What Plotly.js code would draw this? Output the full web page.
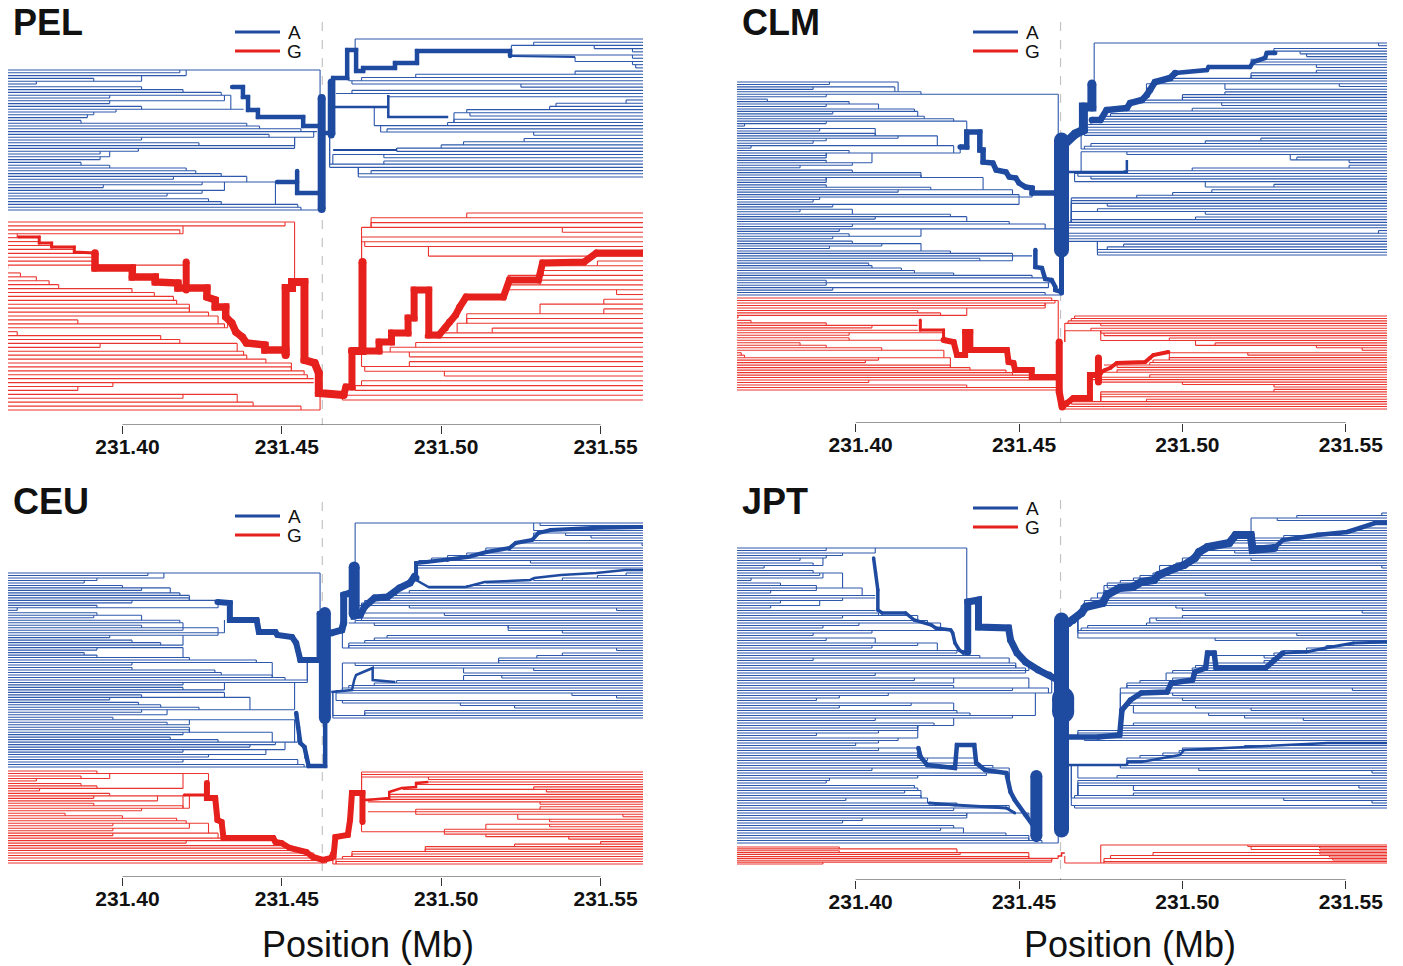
<!DOCTYPE html>
<html><head><meta charset="utf-8">
<script src="https://cdn.plot.ly/plotly-3.0.1.min.js"></script>
<style>html,body{margin:0;padding:0;background:#fff}#chart{width:1403px;height:966px}</style>
</head><body><div id="chart"></div>
<script>
// ---------------- DATA ----------------
const XT = [231.40, 231.45, 231.50, 231.55];
const XT_TEXT = ['231.40', '231.45', '231.50', '231.55'];
const SNP = 231.4627;
const POPS = ['PEL', 'CLM', 'CEU', 'JPT'];
const ALLELES = ['A', 'G'];

// merge (branch) positions in Mb of each haplotype line, listed top -> bottom
const PEL_A_left = [231.462,231.418,231.420,231.391,231.406,231.373,231.406,231.419,231.431,231.434,231.396,231.432,231.396,231.406,231.438,231.398,231.391,231.389,231.387,231.439,231.443,231.456,231.461,231.446,231.460,231.406,231.424,231.454,231.454,231.405,231.393,231.396,231.393,231.387,231.396,231.420,231.423,231.431,231.439,231.416,231.448,231.425,231.394,231.432,231.425,231.414,231.427,231.431,231.455,231.456,231.462];
const PEL_A_right = [231.473,231.529,231.522,231.548,231.560,231.522,231.560,231.542,231.560,231.561,231.542,231.492,231.475,231.471,231.472,231.525,231.472,231.467,231.483,231.558,231.536,231.534,231.508,231.504,231.509,231.504,231.502,231.479,231.483,231.481,231.529,231.526,231.507,231.500,231.486,231.486,231.466,231.482,231.482,231.465,231.465,231.478,231.474,231.474];
const PEL_G_left = [231.454,231.451,231.418,231.419,231.367,231.374,231.378,231.385,231.388,231.391,231.391,231.420,231.364,231.368,231.373,231.377,231.380,231.403,231.410,231.416,231.417,231.421,231.421,231.427,231.430,231.386,231.432,231.433,231.367,231.412,231.418,231.436,231.393,231.438,231.439,231.445,231.453,231.453,231.457,231.458,231.460,231.460,231.397,231.386,231.436,231.419,231.441,231.456,231.462];
const PEL_G_right = [231.508,231.478,231.478,231.475,231.538,231.475,231.475,231.476,231.551,231.496,231.549,231.532,231.532,231.521,231.531,231.520,231.520,231.555,231.551,231.531,231.551,231.508,231.508,231.505,231.516,231.499,231.495,231.492,231.484,231.481,231.490,231.490,231.475,231.476,231.501,231.475,231.472,231.473,231.469,231.469];

const CLM_A_left = [231.413,231.392,231.412,231.387,231.420,231.462,231.391,231.373,231.398,231.407,231.391,231.418,231.419,231.393,231.421,231.430,231.434,231.391,231.366,231.406,231.389,231.406,231.425,231.413,231.391,231.387,231.430,231.368,231.398,231.432,231.391,231.391,231.391,231.405,231.399,231.383,231.399,231.420,231.420,231.439,231.391,231.391,231.391,231.423,231.448,231.413,231.450,231.454,231.389,231.387,231.450,231.393,231.399,231.383,231.429,231.434,231.406,231.447,231.458,231.399,231.461,231.395,231.398,231.420,231.393,231.399,231.420,231.408,231.392,231.429,231.448,231.454,231.438,231.448,231.404,231.405,231.414,231.418,231.430,231.454,231.458,231.391,231.461,231.391,231.459,231.393,231.458,231.463];
const CLM_A_right = [231.473,231.560,231.528,231.526,231.536,231.538,231.521,231.522,231.522,231.541,231.541,231.521,231.521,231.497,231.492,231.489,231.548,231.513,231.513,231.500,231.500,231.488,231.484,231.512,231.503,231.479,231.478,231.476,231.475,231.472,231.471,231.471,231.468,231.470,231.470,231.524,231.507,231.472,231.470,231.469,231.469,231.483,231.535,231.533,231.551,231.551,231.503,231.482,231.467,231.468,231.472,231.467,231.528,231.507,231.509,231.497,231.486,231.466,231.466,231.466,231.477,231.474,231.466,231.507,231.504,231.466,231.465,231.465,231.465,231.560,231.465,231.465,231.465,231.465,231.482,231.477,231.474,231.474,231.474];
const CLM_G_left = [231.460,231.462,231.461,231.458,231.458,231.419,231.426,231.434,231.364,231.368,231.391,231.419,231.405,231.419,231.427,231.398,231.398,231.427,231.383,231.391,231.408,231.427,231.365,231.366,231.429,231.407,231.403,231.429,231.435,231.446,231.448,231.453,231.461,231.462,231.404,231.434,231.462,231.463];
const CLM_G_right = [231.467,231.466,231.465,231.464,231.475,231.472,231.464,231.475,231.476,231.496,231.475,231.510,231.504,231.541,231.555,231.496,231.520,231.496,231.491,231.490,231.476,231.480,231.480,231.476,231.490,231.475,231.472,231.475,231.500,231.528,231.528,231.475,231.475,231.475,231.489,231.465,231.466,231.464,231.464];

const CEU_A_left = [231.462,231.408,231.413,231.392,231.388,231.400,231.415,231.406,231.418,231.421,231.421,231.430,231.403,231.392,231.430,231.367,231.392,231.406,231.391,231.418,231.419,231.406,231.430,231.419,231.432,231.430,231.396,231.403,231.412,231.419,231.419,231.392,231.388,231.392,231.421,231.442,231.447,231.403,231.403,231.429,231.431,231.447,231.451,231.458,231.458,231.419,231.419,231.432,231.432,231.406,231.440,231.396,231.405,231.412,231.424,231.454,231.406,231.414,231.397,231.454,231.414,231.421,231.421,231.421,231.447,231.419,231.415,231.430,231.455,231.448,231.440,231.451,231.419,231.445,231.427,231.455,231.419,231.457,231.463];
const CEU_A_right = [231.473,231.531,231.560,231.529,231.529,231.539,231.547,231.529,231.523,231.563,231.514,231.521,231.508,231.502,231.497,231.493,231.528,231.492,231.492,231.558,231.558,231.549,231.538,231.529,231.514,231.508,231.496,231.490,231.486,231.484,231.480,231.476,231.475,231.473,231.490,231.555,231.473,231.501,231.475,231.473,231.471,231.479,231.521,231.521,231.538,231.483,231.479,231.476,231.471,231.471,231.469,231.555,231.538,231.530,231.518,231.518,231.469,231.473,231.478,231.529,231.507,231.507,231.519,231.486,231.479,231.471,231.469,231.467,231.467,231.541,231.555,231.467,231.469,231.506,231.523,231.476,231.476,231.466,231.466];
const CEU_G_left = [231.392,231.427,231.387,231.396,231.373,231.387,231.392,231.419,231.374,231.396,231.419,231.391,231.411,231.391,231.419,231.421,231.406,231.382,231.400,231.417,231.420,231.427,231.397,231.421,231.397,231.430,231.397,231.448,231.447,231.420,231.451,231.455,231.458,231.460,231.461,231.462,231.463,231.464];
const CEU_G_right = [231.475,231.475,231.475,231.496,231.496,231.492,231.529,231.488,231.533,231.484,231.484,231.476,231.477,231.531,231.531,231.492,231.477,231.492,231.557,231.524,231.534,231.514,231.534,231.501,231.475,231.501,231.514,231.540,231.550,231.523,231.495,231.495,231.472,231.472,231.469,231.467,231.467,231.466];

const JPT_A_left = [231.434,231.391,231.406,231.396,231.391,231.383,231.387,231.390,231.372,231.387,231.396,231.389,231.390,231.368,231.377,231.388,231.402,231.388,231.374,231.406,231.406,231.396,231.377,231.389,231.374,231.406,231.407,231.419,231.396,231.422,231.426,231.401,231.390,231.429,231.405,231.387,231.406,231.391,231.425,231.419,231.405,231.434,231.431,231.438,231.447,231.387,231.449,231.449,231.452,231.453,231.452,231.406,231.453,231.418,231.430,231.430,231.459,231.448,231.460,231.410,231.395,231.388,231.430,231.417,231.395,231.431,231.435,231.455,231.448,231.406,231.424,231.430,231.419,231.419,231.407,231.388,231.419,231.413,231.407,231.400,231.419,231.407,231.419,231.419,231.437,231.422,231.438,231.442,231.447,231.405,231.447,231.440,231.419,231.392,231.391,231.418,231.419,231.420,231.415,231.420,231.422,231.397,231.431,231.447,231.447,231.430,231.453,231.434,231.434,231.402,231.396,231.430,231.433,231.426,231.446,231.453,231.453,231.457,231.462];
const JPT_A_right = [231.561,231.535,231.521,231.529,231.559,231.563,231.554,231.550,231.541,231.531,231.515,231.516,231.514,231.521,231.508,231.505,231.516,231.504,231.500,231.521,231.498,231.493,231.561,231.493,231.491,231.487,231.485,231.481,231.477,231.476,231.477,231.476,231.474,231.507,231.472,231.470,231.470,231.469,231.498,231.500,231.555,231.500,231.490,231.492,231.489,231.471,231.469,231.468,231.468,231.535,231.468,231.510,231.552,231.544,231.538,231.531,231.528,231.508,231.525,231.525,231.507,231.504,231.503,231.497,231.495,231.503,231.497,231.487,231.483,231.483,231.481,231.552,231.481,231.497,231.484,231.500,231.483,231.483,231.504,231.521,231.485,231.508,231.519,231.537,231.485,231.481,231.481,231.468,231.468,231.468,231.468,231.470,231.544,231.519,231.500,231.499,231.494,231.487,231.483,231.483,231.483,231.482,231.481,231.505,231.558,231.480,231.468,231.468,231.468,231.468,231.554,231.485,231.485,231.467,231.466,231.531,231.558,231.466,231.467];
const JPT_G_left = [231.395,231.431,231.395,231.453,231.432,231.453,231.462,231.460,231.460,231.390];
const JPT_G_right = [231.475,231.520,231.542,231.521,231.542,231.491,231.542,231.478,231.545,231.476,231.546,231.476,231.464];

// haplotype position ranges (top, bottom) occupied by each side of each allele group
const PEL_A_span = [[70, 210], [39, 177]];
const PEL_G_span = [[222, 410], [213, 400]];
const CLM_A_span = [[82, 295], [43, 255]];
const CLM_G_span = [[298, 390], [316, 409]];
const CEU_A_span = [[573, 767], [523, 718]];
const CEU_G_span = [[771, 863], [772, 864]];
const JPT_A_span = [[548, 843], [513, 808]];
const JPT_G_span = [[847, 864], [845, 863]];

// core-haplotype (thick) paths: [position Mb, haplotype position]
const PEL_A_paths = [
 [[231.4625,98],[231.4625,209]],
 [[231.4655,82],[231.4655,135]],
 [[231.4620,126],[231.4567,126],[231.4567,117],[231.4425,117],[231.4425,110],[231.4394,110],[231.4394,97],[231.4378,97],[231.4378,87],[231.4344,87]],
 [[231.4485,182],[231.4548,182],[231.4548,171],[231.4548,193],[231.4620,193]],
 [[231.4625,133],[231.4661,133],[231.4661,78],[231.4705,78],[231.4705,50],[231.4733,50],[231.4733,71],[231.4755,71],[231.4755,68],[231.4855,68],[231.4855,63],[231.4924,63],[231.4924,51],[231.5216,51],[231.5216,56]],
 [[231.5216,56],[231.5420,57]],
 [[231.4661,107],[231.4834,107],[231.4834,95],[231.4834,117],[231.5022,117]],
 [[231.4661,150],[231.4862,150]]
];
const PEL_G_paths = [
 [[231.3674,237],[231.3739,237],[231.3739,243],[231.3778,243],[231.3778,247],[231.3849,247],[231.3849,252],[231.3914,253]],
 [[231.3914,253],[231.3914,268],[231.4031,268],[231.4031,277],[231.4103,277],[231.4103,282],[231.4174,283],[231.4174,288],[231.4265,288],[231.4265,297],[231.4291,300],[231.4291,307],[231.4324,307],[231.4324,317],[231.4343,323],[231.4356,332],[231.4376,337],[231.4389,343],[231.4447,345],[231.4447,350],[231.4512,350],[231.4512,355]],
 [[231.4512,355],[231.4512,288],[231.4532,288],[231.4532,282],[231.4571,282],[231.4571,360],[231.4603,363],[231.4616,373],[231.4616,393],[231.4694,395]],
 [[231.4200,262],[231.4200,290]],
 [[231.4694,395],[231.4701,387],[231.4720,387],[231.4720,351],[231.4805,351],[231.4805,342],[231.4844,342],[231.4844,333],[231.4896,333],[231.4896,318],[231.4915,318],[231.4915,290],[231.4961,290],[231.4961,335],[231.4993,335],[231.5013,328],[231.5026,322],[231.5045,315],[231.5058,307],[231.5078,297],[231.5195,297],[231.5214,280],[231.5305,280],[231.5318,263],[231.5448,262],[231.5487,253],[231.5633,253]],
 [[231.4720,351],[231.4753,351],[231.4753,262]]
];
const CLM_A_paths = [
 [[231.4630,140],[231.4630,250]],
 [[231.4630,250],[231.4630,293]],
 [[231.4320,147],[231.4340,147],[231.4340,132],[231.4380,132],[231.4380,150],[231.4390,150],[231.4390,162],[231.4420,163],[231.4430,170],[231.4460,172],[231.4470,177],[231.4490,178],[231.4500,183],[231.4520,187],[231.4540,188],[231.4540,193],[231.4610,193]],
 [[231.4630,292],[231.4611,290],[231.4611,287],[231.4600,280],[231.4580,279],[231.4570,268],[231.4550,267],[231.4550,250]],
 [[231.4636,145],[231.4672,134],[231.4697,130],[231.4697,107],[231.4723,107],[231.4723,84]],
 [[231.4723,120],[231.4749,120],[231.4768,110],[231.4830,108],[231.4840,103],[231.4876,100],[231.4891,95],[231.4901,90],[231.4916,82],[231.4962,78],[231.4978,73]],
 [[231.4978,73],[231.5075,70],[231.5080,67],[231.5207,67],[231.5217,62],[231.5253,58],[231.5258,53],[231.5284,53]],
 [[231.4646,172],[231.4830,172],[231.4830,160]]
];
const CLM_G_paths = [
 [[231.4198,320],[231.4198,330],[231.4269,330],[231.4269,340]],
 [[231.4269,340],[231.4300,342],[231.4310,355],[231.4335,355],[231.4335,332],[231.4351,332],[231.4351,350],[231.4463,350],[231.4468,362],[231.4483,363],[231.4488,370],[231.4539,370],[231.4539,377],[231.4621,377]],
 [[231.4623,342],[231.4623,392],[231.4632,407]],
 [[231.4632,407],[231.4646,403],[231.4666,398],[231.4717,398],[231.4717,375],[231.4733,375],[231.4748,373]],
 [[231.4743,358],[231.4743,382]],
 [[231.4748,373],[231.4763,370],[231.4779,368],[231.4799,363],[231.4886,362],[231.4901,358],[231.4911,355],[231.4957,352]]
];
const CEU_A_paths = [
 [[231.4635,613],[231.4635,718]],
 [[231.4616,613],[231.4616,660]],
 [[231.4616,660],[231.4558,660],[231.4545,643],[231.4532,637],[231.4486,635],[231.4480,632],[231.4428,632],[231.4421,620],[231.4337,620],[231.4337,603],[231.4298,602]],
 [[231.4545,713],[231.4551,727],[231.4558,743],[231.4571,747],[231.4577,757],[231.4584,766],[231.4636,766],[231.4636,713]],
 [[231.4655,633],[231.4688,630],[231.4694,623],[231.4694,595],[231.4714,593],[231.4727,590],[231.4727,616],[231.4746,615],[231.4759,607],[231.4791,598],[231.4831,597],[231.4869,588],[231.4902,583],[231.4915,577],[231.4921,578]],
 [[231.4727,567],[231.4727,614]],
 [[231.4921,578],[231.4921,563],[231.4954,562],[231.5019,560],[231.5084,557],[231.5142,552],[231.5214,548],[231.5234,543],[231.5285,540],[231.5305,533],[231.5343,530],[231.5473,528],[231.5633,527]],
 [[231.4921,580],[231.4960,587],[231.5077,587],[231.5136,582],[231.5279,580],[231.5292,578],[231.5376,575],[231.5486,573],[231.5577,570],[231.5633,570]],
 [[231.4655,692],[231.4720,690],[231.4727,680],[231.4733,675],[231.4785,668],[231.4785,680],[231.4856,682]]
];
const CEU_G_paths = [
 [[231.4194,795],[231.4265,795]],
 [[231.4265,783],[231.4265,798],[231.4291,798],[231.4298,820],[231.4311,822],[231.4317,838],[231.4473,838],[231.4480,842],[231.4499,843],[231.4525,848],[231.4577,852],[231.4597,857],[231.4629,860],[231.4655,858],[231.4662,853]],
 [[231.4662,857],[231.4668,837],[231.4707,835],[231.4714,820],[231.4720,793],[231.4753,793],[231.4753,822]],
 [[231.4753,800],[231.4766,800],[231.4837,798],[231.4837,792],[231.4876,788],[231.4921,787],[231.4921,783],[231.4960,782]]
];
const JPT_A_paths = [
 [[231.4630,620],[231.4630,830]],
 [[231.4635,698],[231.4635,712]],
 [[231.4055,558],[231.4061,573],[231.4068,590],[231.4068,610],[231.4081,613],[231.4153,613],[231.4179,620],[231.4232,625],[231.4245,628],[231.4291,630],[231.4297,633],[231.4304,643],[231.4317,650],[231.4330,653],[231.4343,652]],
 [[231.4343,652],[231.4343,602],[231.4376,600],[231.4376,627],[231.4468,628],[231.4474,640],[231.4494,653],[231.4520,662],[231.4559,670],[231.4592,675],[231.4618,680],[231.4644,693]],
 [[231.4192,748],[231.4199,757],[231.4219,765],[231.4264,767],[231.4304,768],[231.4310,745],[231.4363,745],[231.4369,763],[231.4396,770],[231.4461,773],[231.4474,792],[231.4487,800],[231.4520,815],[231.4546,827],[231.4553,840]],
 [[231.4553,776],[231.4553,836]],
 [[231.4225,803],[231.4304,805],[231.4461,808],[231.4487,813]],
 [[231.4637,680],[231.4637,623],[231.4651,623],[231.4665,620],[231.4691,613],[231.4704,607],[231.4756,603],[231.4769,595],[231.4808,588],[231.4848,587],[231.4874,582],[231.4913,580],[231.4927,575],[231.4979,568],[231.5005,565],[231.5038,558],[231.5051,552],[231.5077,547],[231.5143,543],[231.5163,535],[231.5209,535],[231.5215,550],[231.5281,548]],
 [[231.5281,548],[231.5307,540],[231.5412,535],[231.5504,532],[231.5543,528],[231.5589,523],[231.5626,523]],
 [[231.4637,737],[231.4743,737],[231.4808,735],[231.4815,710],[231.4841,700],[231.4874,693],[231.4953,692],[231.4966,683],[231.5031,680],[231.5038,672],[231.5071,668],[231.5077,653],[231.5097,653],[231.5103,668],[231.5254,668],[231.5280,660],[231.5307,653]],
 [[231.5307,653],[231.5379,652],[231.5438,648],[231.5523,643],[231.5626,642]],
 [[231.4637,765],[231.4828,765],[231.4835,762],[231.4874,762],[231.4940,758],[231.4992,755],[231.5005,750],[231.5189,747],[231.5445,743],[231.5626,743]]
];
const JPT_G_paths = [
 [[231.4618,856],[231.4630,856],[231.4630,853],[231.4640,853]]
];

// ---------------- STYLE / LAYOUT ----------------
const W = 1403, H = 966;
const STYLE = {
  PEL: {A: [8,7,4.5,4.5,4.5,2,2.5,2], G: [3,7.5,8,7,7,8]},
  CLM: {A: [15,5,5.5,4.5,9,6.5,4.5,2.5], G: [3,6,7,6,7,4]},
  CEU: {A: [12,4.5,6,4.5,7,11,4,2.5,2.5], G: [3,6,6,2.5]},
  JPT: {A: [15,22,3.5,7,4.5,12,3,8,4.5,5.5,3,2.5], G: [1.5]}
};
const COL = {
  A: {thin: 'rgb(45,88,172)', thick: 'rgb(30,74,160)', legend: 'rgb(30,74,160)'},
  G: {thin: 'rgb(236,52,46)', thick: 'rgb(230,32,28)', legend: 'rgb(230,32,28)'}
};
const CFG = {
  PEL: {xd: [8, 643], xr: [231.3641, 231.5633], yr: [22, 425], t: [11, 22], lg: [235, 280, 294, 32, 51]},
  CLM: {xd: [737, 1387], xr: [231.3637, 231.5626], yr: [22, 423], t: [740, 22], lg: [973, 1018, 1032, 32, 51]},
  CEU: {xd: [8, 643], xr: [231.3641, 231.5633], yr: [502, 877], t: [11, 502], lg: [235, 280, 294, 516, 535]},
  JPT: {xd: [737, 1387], xr: [231.3637, 231.5626], yr: [500, 880], t: [740, 502], lg: [973, 1018, 1032, 508, 527]}
};
const DATA = {
  PEL: {A: [PEL_A_left, PEL_A_right, PEL_A_span, PEL_A_paths], G: [PEL_G_left, PEL_G_right, PEL_G_span, PEL_G_paths]},
  CLM: {A: [CLM_A_left, CLM_A_right, CLM_A_span, CLM_A_paths], G: [CLM_G_left, CLM_G_right, CLM_G_span, CLM_G_paths]},
  CEU: {A: [CEU_A_left, CEU_A_right, CEU_A_span, CEU_A_paths], G: [CEU_G_left, CEU_G_right, CEU_G_span, CEU_G_paths]},
  JPT: {A: [JPT_A_left, JPT_A_right, JPT_A_span, JPT_A_paths], G: [JPT_G_left, JPT_G_right, JPT_G_span, JPT_G_paths]}
};
const FONT = 'Liberation Sans, Arial, sans-serif';

function slots(span, n) {
  const out = [];
  for (let i = 0; i < n; i++) out.push(n === 1 ? span[0] : span[0] + i * (span[1] - span[0]) / (n - 1));
  return out;
}

// thin haplotype lines + vertical merge connectors (each line joins the nearest line that continues further towards the core)
function thinSide(xs, span, side, paths, xr) {
  const ys = slots(span, xs.length);
  const X = [], Y = [];
  const segs = [];
  paths.forEach(p => { for (let k = 0; k < p.length - 1; k++) segs.push([p[k], p[k + 1]]); });
  xs.forEach((x, i) => {
    const y = ys[i];
    if (side === 'L') X.push(xr[0], x, null); else X.push(x, xr[1], null);
    Y.push(y, y, null);
    let best = null, bd = Infinity;
    xs.forEach((x2, j) => {
      if (j === i) return;
      const ok = side === 'L' ? x2 > x + 1e-9 : x2 < x - 1e-9;
      if (ok) { const d = Math.abs(ys[j] - y); if (d < bd) { bd = d; best = ys[j]; } }
    });
    segs.forEach(([a, b]) => {
      let yt = null;
      if (Math.abs(a[0] - b[0]) < 1e-7) {
        if (Math.abs(a[0] - x) <= 0.002) yt = Math.min(Math.max(y, Math.min(a[1], b[1])), Math.max(a[1], b[1]));
      } else {
        const lo = Math.min(a[0], b[0]), hi = Math.max(a[0], b[0]);
        if (x >= lo && x <= hi) yt = a[1] + (b[1] - a[1]) * (x - a[0]) / (b[0] - a[0]);
      }
      if (yt !== null) { const d = Math.abs(yt - y); if (d < bd) { bd = d; best = yt; } }
    });
    if (best !== null && bd > 0.01) { X.push(x, x, null); Y.push(y, best, null); }
  });
  return {X, Y};
}

const traces = [], shapes = [], annotations = [];
const layout = {
  width: W, height: H, margin: {l: 0, r: 0, t: 0, b: 0},
  paper_bgcolor: '#fff', plot_bgcolor: 'rgba(0,0,0,0)', showlegend: false
};

POPS.forEach((pop, k) => {
  const c = CFG[pop];
  const xa = k === 0 ? 'x' : 'x' + (k + 1), ya = k === 0 ? 'y' : 'y' + (k + 1);
  const xn = k === 0 ? 'xaxis' : 'xaxis' + (k + 1), yn = k === 0 ? 'yaxis' : 'yaxis' + (k + 1);
  layout[xn] = {
    domain: [c.xd[0] / W, c.xd[1] / W], range: c.xr, anchor: ya,
    tickmode: 'array', tickvals: XT, ticktext: XT_TEXT, ticks: 'outside', ticklen: 8, tickwidth: 1, tickcolor: '#333',
    ticklabelstandoff: -5, ticklabelshift: 5,
    showline: false, showgrid: false, zeroline: false, fixedrange: true,
    tickfont: {family: FONT, size: 21, color: '#111', weight: 'bold'}
  };
  layout[yn] = {domain: [1 - c.yr[1] / H, 1 - c.yr[0] / H], range: [c.yr[1], c.yr[0]], anchor: xa, visible: false, fixedrange: true};

  shapes.push({type: 'line', xref: xa, yref: ya, x0: SNP, x1: SNP, y0: c.yr[0], y1: c.yr[1], layer: 'below',
    line: {color: '#c4c4c4', width: 1.2, dash: 'dash'}});
  shapes.push({type: 'line', xref: xa, yref: ya, x0: XT[0], x1: XT[XT.length - 1], y0: c.yr[1], y1: c.yr[1],
    line: {color: '#333', width: 1}});

  ALLELES.forEach(al => {
    const [left, right, span, paths] = DATA[pop][al];
    const L = thinSide(left, span[0], 'L', paths, c.xr);
    const R = thinSide(right, span[1], 'R', paths, c.xr);
    [L, R].forEach(s => traces.push({x: s.X, y: s.Y, xaxis: xa, yaxis: ya, mode: 'lines', hoverinfo: 'skip',
      line: {color: COL[al].thin, width: 1.1}, connectgaps: false}));
  });
  ALLELES.forEach(al => {
    const paths = DATA[pop][al][3];
    paths.forEach((p, i) => {
      const w = STYLE[pop][al][i];
      traces.push({x: p.map(q => q[0]), y: p.map(q => q[1]), xaxis: xa, yaxis: ya,
        mode: w >= 3 ? 'lines+markers' : 'lines', hoverinfo: 'skip',
        line: {color: COL[al].thick, width: w},
        marker: {size: w, color: COL[al].thick, line: {width: 0}}});
    });
  });

  annotations.push({xref: 'paper', yref: 'paper', x: c.t[0] / W, y: 1 - c.t[1] / H, xanchor: 'left', yanchor: 'middle',
    text: '<b>' + pop + '</b>', showarrow: false, font: {family: FONT, size: 36, color: '#111'}});
  ALLELES.forEach((al, j) => {
    const yy = 1 - c.lg[3 + j] / H;
    shapes.push({type: 'line', xref: 'paper', yref: 'paper', x0: c.lg[0] / W, x1: c.lg[1] / W, y0: yy, y1: yy,
      line: {color: COL[al].legend, width: 3}});
    annotations.push({xref: 'paper', yref: 'paper', x: c.lg[2] / W, y: yy, xanchor: 'center', yanchor: 'middle',
      text: al, showarrow: false, font: {family: FONT, size: 19, color: '#111'}, height: 16, borderpad: 0});
  });
});

[[368, 944], [1130, 944]].forEach(p => annotations.push({xref: 'paper', yref: 'paper', x: p[0] / W, y: 1 - p[1] / H,
  xanchor: 'center', yanchor: 'middle', text: 'Position (Mb)', showarrow: false, font: {family: FONT, size: 36, color: '#111'}}));

layout.shapes = shapes;
layout.annotations = annotations;
Plotly.newPlot('chart', traces, layout, {staticPlot: true, displayModeBar: false});
</script></body></html>
